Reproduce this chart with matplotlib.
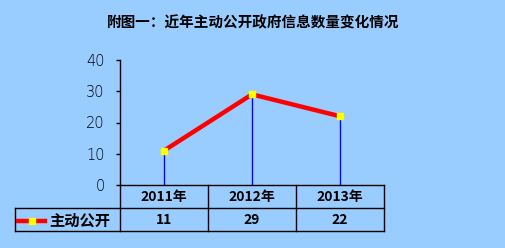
import matplotlib
matplotlib.use("Agg")
import matplotlib.pyplot as plt
from matplotlib.lines import Line2D

plt.rcParams['font.family'] = ['Noto Sans CJK SC', 'DejaVu Sans']

# data
years = ["2011年", "2012年", "2013年"]
counts = [11, 29, 22]
series_name = "主动公开"
title = "附图一：近年主动公开政府信息数量变化情况"

bg = "#99ccff"
W, H = 505, 248

fig = plt.figure(figsize=(W / 100, H / 100), dpi=100, facecolor=bg)
# plot area in pixel terms: x 120..384, y 60..185
ax = fig.add_axes([120 / W, 1 - 185 / H, 264 / W, 125 / H])
ax.set_facecolor(bg)

xs = range(len(years))
ax.vlines(xs, 0, counts, color="#0000ee", lw=1)
ax.plot(xs, counts, color="#ff0000", lw=3.2, solid_capstyle="butt", zorder=3)
ax.plot(xs, counts, ls="none", marker="s", ms=5, mfc="#ffff00", mec="#ffff00", zorder=4)

ax.set_xlim(-0.5, len(years) - 0.5)
ax.set_ylim(0, 40)
ax.set_yticks([0, 10, 20, 30, 40])
ax.set_xticks([])
ax.tick_params(axis="y", direction="out", length=3, width=1, color="black",
               labelsize=10.5, pad=8)
for lbl in ax.get_yticklabels():
    lbl.set_fontfamily("DejaVu Sans")
    lbl.set_fontweight("light")
for s in ["top", "right"]:
    ax.spines[s].set_visible(False)
ax.spines["left"].set_linewidth(1)
ax.spines["bottom"].set_linewidth(1)

fig.text(253 / W, 1 - 22 / H, title, ha="center", va="center",
         fontsize=10.5, fontweight="bold")

# data table under the axis, drawn in pixel coordinates
def px(x, y):
    return x / W, 1 - y / H

col_edges = [120, 208, 296, 384]
row_top, row_mid, row_bot = 185, 208, 231
leg_left = 15

def hline(x0, x1, y):
    fig.add_artist(Line2D([x0 / W, x1 / W], [1 - y / H, 1 - y / H], color="black", lw=1))

def vline(x, y0, y1):
    fig.add_artist(Line2D([x / W, x / W], [1 - y0 / H, 1 - y1 / H], color="black", lw=1))

hline(leg_left, 384, row_mid)
hline(leg_left, 384, row_bot)
for x in col_edges:
    vline(x, row_top, row_bot)
vline(leg_left, row_mid, row_bot)

for i, (yr, c) in enumerate(zip(years, counts)):
    cx = (col_edges[i] + col_edges[i + 1]) / 2
    fig.text(*px(cx, (row_top + row_mid) / 2 + 1), yr, ha="center", va="center",
             fontsize=10, fontweight="bold")
    fig.text(*px(cx, (row_mid + row_bot) / 2 + 1), str(c), ha="center", va="center",
             fontsize=10, fontweight="bold")

ly = (row_mid + row_bot) / 2 + 1
fig.add_artist(Line2D([18 / W, 45 / W], [1 - ly / H] * 2, color="#ff0000", lw=3.2))
fig.add_artist(Line2D([31.5 / W], [1 - ly / H], marker="s", ms=5, mfc="#ffff00",
                      mec="#ffff00", ls="none"))
fig.text(*px(49, ly), series_name, ha="left", va="center", fontsize=11, fontweight="bold")

fig.savefig("out.png", dpi=100, facecolor=bg)
